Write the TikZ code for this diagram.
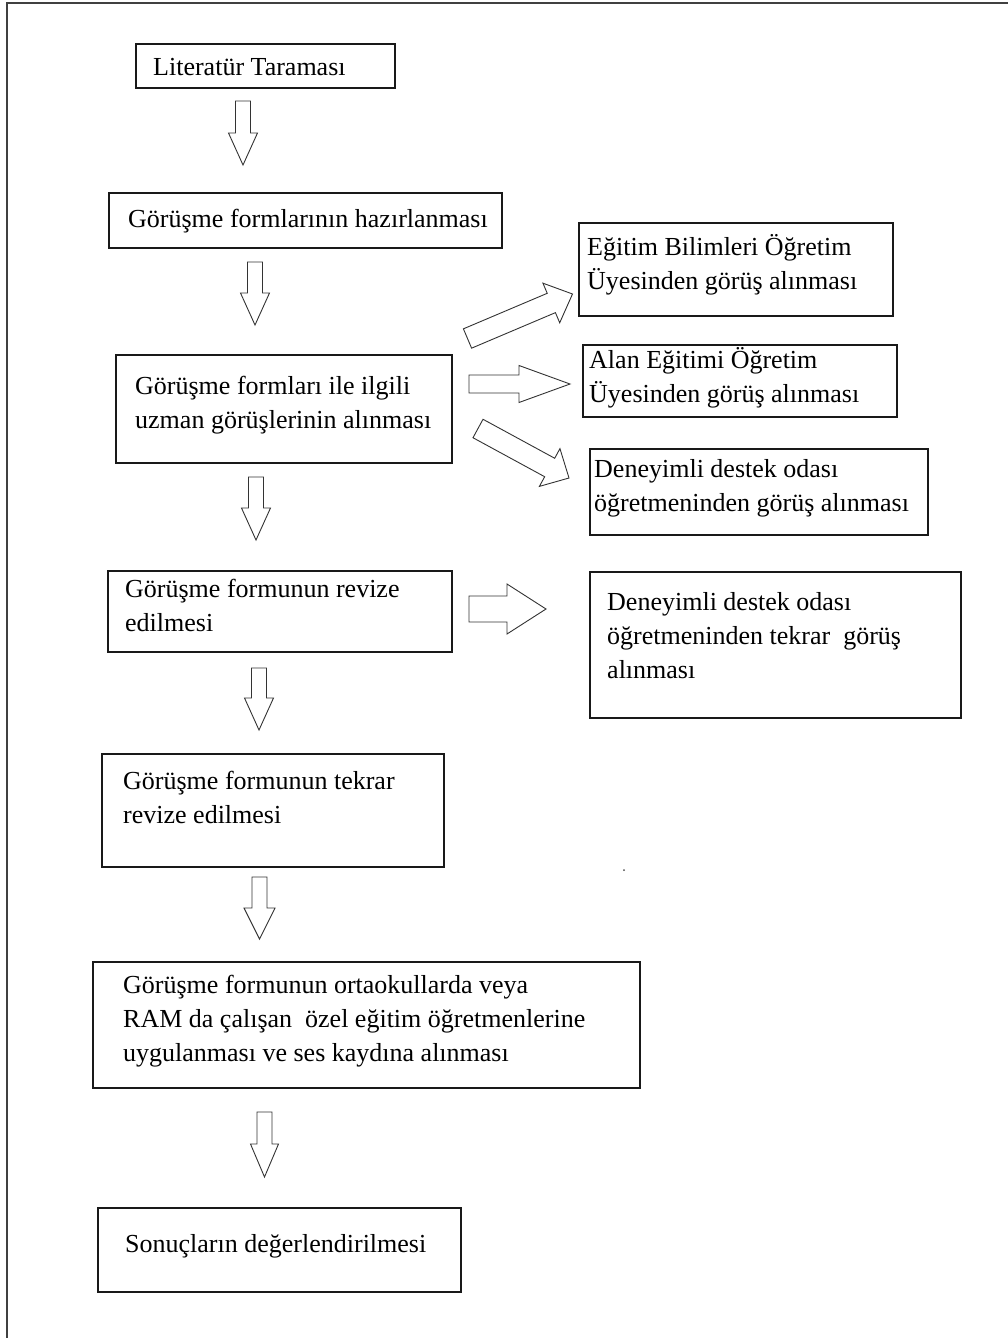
\documentclass[tikz,border=0pt]{standalone}
\usepackage{fontspec}
\setmainfont{Liberation Serif}
\usetikzlibrary{calc}
\newcommand\blockarr[5]{%
  \coordinate (hb) at ($(#2)!#5!(#1)$);
  \draw[barrow] ($(#1)!#3!90:(#2)$) -- ($(hb)!#3!90:(#2)$) -- ($(hb)!#4!90:(#2)$) -- (#2)
    -- ($(hb)!#4!-90:(#2)$) -- ($(hb)!#3!-90:(#2)$) -- ($(#1)!#3!-90:(#2)$) -- cycle;}
\tikzset{
  box/.style={draw=black!90, line width=1.3pt},
  txt/.style={anchor=north west, inner sep=0pt, align=left, font=\fontsize{26}{34}\selectfont},
  barrow/.style={draw=black!80, line width=0.9pt, fill=white, line join=miter},
  frame/.style={draw=black!75, line width=2pt}
}
\begin{document}
\begin{tikzpicture}[x=1pt,y=-1pt]
\useasboundingbox (0,0) rectangle (1008,1338);
\draw[frame] (7,1340) -- (7,3) -- (1010,3);

% boxes (main column)
\draw[box] (136,44) rectangle (395,88) node[pos=0.5] (b1) {};
\draw[box] (109,193) rectangle (502,248) node[pos=0.5] (b2) {};
\draw[box] (116,355) rectangle (452,463) node[pos=0.5] (b3) {};
\draw[box] (108,571) rectangle (452,652) node[pos=0.5] (b4) {};
\draw[box] (102,754) rectangle (444,867) node[pos=0.5] (b5) {};
\draw[box] (93,962) rectangle (640,1088) node[pos=0.5] (b6) {};
\draw[box] (98,1208) rectangle (461,1292) node[pos=0.5] (b7) {};
% boxes (right column)
\draw[box] (579,223) rectangle (893,316) node[pos=0.5] (r1) {};
\draw[box] (583,345) rectangle (897,417) node[pos=0.5] (r2) {};
\draw[box] (590,449) rectangle (928,535) node[pos=0.5] (r3) {};
\draw[box] (590,572) rectangle (961,718) node[pos=0.5] (r4) {};

% texts (anchor = top of first strut; baseline = top + 23.8)
\node[txt] (t1) at (153,51.2) {\strut Literatür Taraması};
\node[txt] (t2) at (128,203.2) {\strut Görüşme formlarının hazırlanması};
\node[txt] (t3) at (135,370.2) {\strut Görüşme formları ile ilgili\\\strut uzman görüşlerinin alınması};
\node[txt] (t4) at (125,573.2) {\strut Görüşme formunun revize\\\strut edilmesi};
\node[txt] (t5) at (123,765.2) {\strut Görüşme formunun tekrar\\\strut revize edilmesi};
\node[txt] (t6) at (123,969.2) {\strut Görüşme formunun ortaokullarda veya\\\strut RAM da çalışan~ özel eğitim öğretmenlerine\\\strut uygulanması ve ses kaydına alınması};
\node[txt] (t7) at (125,1228.2) {\strut Sonuçların değerlendirilmesi};
\node[txt] (u1) at (587,231.2) {\strut Eğitim Bilimleri Öğretim\\\strut Üyesinden görüş alınması};
\node[txt] (u2) at (589,344.2) {\strut Alan Eğitimi Öğretim\\\strut Üyesinden görüş alınması};
\node[txt] (u3) at (594,453.2) {\strut Deneyimli destek odası\\\strut öğretmeninden görüş alınması};
\node[txt] (u4) at (607,586.2) {\strut Deneyimli destek odası\\\strut öğretmeninden tekrar~ görüş\\\strut alınması};

% arrow end points
\coordinate (a1s) at (243,101);  \coordinate (a1e) at (243,165);
\coordinate (a2s) at (255,262);  \coordinate (a2e) at (255,325);
\coordinate (a3s) at (256,477);  \coordinate (a3e) at (256,540);
\coordinate (a4s) at (259,668);  \coordinate (a4e) at (259,730);
\coordinate (a5s) at (259.5,877); \coordinate (a5e) at (259.5,939);
\coordinate (a6s) at (264.5,1112); \coordinate (a6e) at (264.5,1177);
\coordinate (q1s) at (467.5,338.5); \coordinate (q1e) at (572.5,294);
\coordinate (q2s) at (469,384); \coordinate (q2e) at (570,384);
\coordinate (q3s) at (478,428.5); \coordinate (q3e) at (569,478);
\coordinate (q4s) at (469,609); \coordinate (q4e) at (546,609);

\blockarr{a1s}{a1e}{7.5pt}{14.5pt}{32pt}
\blockarr{a2s}{a2e}{7.5pt}{14.5pt}{32pt}
\blockarr{a3s}{a3e}{7.5pt}{14.5pt}{32pt}
\blockarr{a4s}{a4e}{7.5pt}{14.5pt}{32pt}
\blockarr{a5s}{a5e}{7.5pt}{15.5pt}{31pt}
\blockarr{a6s}{a6e}{7.5pt}{14pt}{33pt}
\blockarr{q1s}{q1e}{10.5pt}{21.5pt}{23pt}
\blockarr{q2s}{q2e}{9pt}{18.5pt}{51pt}
\blockarr{q3s}{q3e}{10.5pt}{21.5pt}{22pt}
\blockarr{q4s}{q4e}{13pt}{25pt}{39pt}

\fill[black!70] (624,870) circle (1);
\end{tikzpicture}
\end{document}
